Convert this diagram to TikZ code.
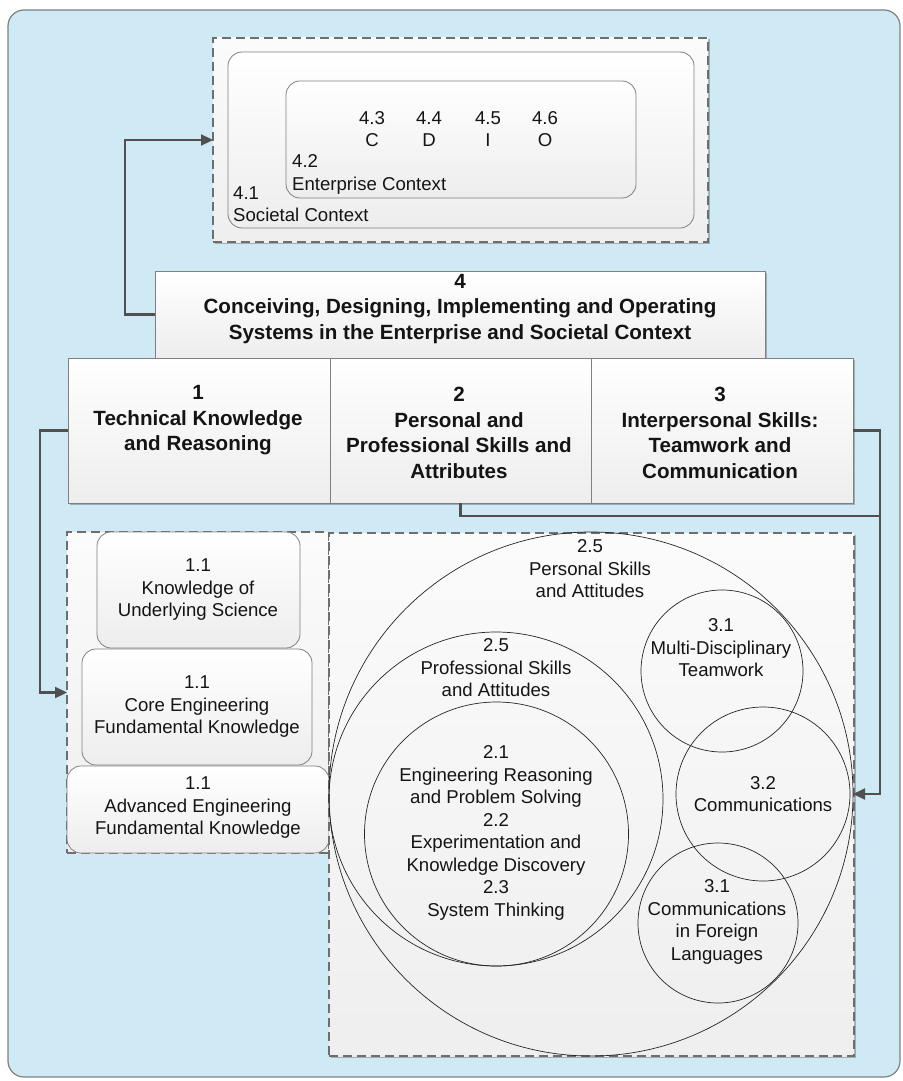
\documentclass[tikz,border=0pt]{standalone}
\usepackage{fontspec}
\setmainfont{Liberation Sans}
\usetikzlibrary{arrows.meta,shadows}
\definecolor{bgblue}{RGB}{207,234,245}
\definecolor{framecol}{RGB}{128,128,128}
\definecolor{conncol}{RGB}{80,80,80}
\definecolor{inkcol}{RGB}{20,20,20}
\definecolor{dashcol}{RGB}{110,110,110}
\begin{document}
\begin{tikzpicture}[x=1pt,y=-1pt,
  shd/.style={drop shadow={shadow xshift=1.5pt,shadow yshift=-1.5pt,opacity=0.25,fill=black}},
  box/.style={draw=framecol, line width=0.8pt, top color=white, bottom color=gray!14, inner sep=0pt, outer sep=0pt},
  rbox/.style={box, rounded corners=14pt},
  dbox/.style={draw=dashcol, dash pattern=on 9pt off 5pt, line width=1.3pt, top color=gray!3, bottom color=gray!13, inner sep=0pt, outer sep=0pt},
  circ/.style={draw=gray!30!black, line width=0.7pt, circle, inner sep=0pt, outer sep=0pt},
  txt/.style={inner sep=0pt, align=center, font=\fontsize{18.6pt}{22.5pt}\selectfont, text=inkcol},
  btxt/.style={inner sep=0pt, align=center, font=\fontsize{20.6pt}{25.5pt}\selectfont\bfseries, text=inkcol},
  link/.style={draw=conncol, line width=2.3pt},
  arr/.style={link, -{Triangle[length=12pt,width=11pt]}},
]
\useasboundingbox (0,0) rectangle (902,1081);
% background
\draw[draw=framecol, fill=bgblue, rounded corners=16pt, line width=1.2pt] (8,10) rectangle (900,1077);

% top context region
\node[dbox, shd, minimum width=495pt, minimum height=204pt] (top) at (460.5,140) {};
\node[rbox, minimum width=466pt, minimum height=176pt] (s41) at (461,140) {};
\node[rbox, minimum width=350pt, minimum height=117pt] (s42) at (461,139.5) {};
\node[txt] (t43) at (372,129) {4.3\\C};
\node[txt] (t44) at (429,129) {4.4\\D};
\node[txt] (t45) at (488,129) {4.5\\I};
\node[txt] (t46) at (545,129) {4.6\\O};
\node[txt, align=left, anchor=west] (t42) at (292,174.5) {4.2\\Enterprise Context};
\node[txt, align=left, anchor=west] (t41) at (233,204) {4.1\\Societal Context};

% box 4
\node[box, shd, minimum width=610pt, minimum height=87pt] (b4) at (460,314.5) {};
\node[btxt] (t4) at (460,309) {4\\Conceiving, Designing, Implementing and Operating\\Systems in the Enterprise and Societal Context};

% row boxes
\node[box, shd, minimum width=262pt, minimum height=145pt] (b1) at (199,430.5) {};
\node[box, shd, minimum width=261pt, minimum height=145pt] (b2) at (460.5,430.5) {};
\node[box, shd, minimum width=262pt, minimum height=145pt] (b3) at (722,430.5) {};
\node[btxt] (t1) at (198,420.5) {1\\Technical Knowledge\\and Reasoning};
\node[btxt] (t2) at (459,433) {2\\Personal and\\Professional Skills and\\Attributes};
\node[btxt] (t3) at (720,433) {3\\Interpersonal Skills:\\Teamwork and\\Communication};

% left panel
\node[dbox, minimum width=262pt, minimum height=321pt] (lbox) at (198,692.5) {};
\node[rbox, minimum width=203pt, minimum height=116pt] (bA) at (198.5,590) {};
\node[rbox, minimum width=230pt, minimum height=116pt] (bB) at (197,707) {};
\node[rbox, minimum width=262pt, minimum height=87pt] (bC) at (198,809.5) {};
\node[txt] (tA) at (198,590) {1.1\\Knowledge of\\Underlying Science};
\node[txt] (tB) at (197,707) {1.1\\Core Engineering\\Fundamental Knowledge};
\node[txt] (tC) at (198,808) {1.1\\Advanced Engineering\\Fundamental Knowledge};

% right panel
\node[dbox, shd, minimum width=525pt, minimum height=523pt] (rbx) at (591.5,794.5) {};
\node[circ, minimum size=524pt] (c25a) at (591,794) {};
\node[circ, minimum size=334pt] (c25b) at (496,799) {};
\node[circ, minimum size=264pt] (c21) at (496.5,834) {};
\node[circ, minimum size=162pt] (c31a) at (722,671) {};
\node[circ, minimum size=174pt] (c32) at (763,794) {};
\node[circ, minimum size=160pt] (c31b) at (718,923) {};
\node[txt] (tp) at (590,569) {2.5\\Personal Skills\\and Attitudes};
\node[txt] (tq) at (496,668) {2.5\\Professional Skills\\and Attitudes};
\node[txt] (tr) at (496,833) {2.1\\Engineering Reasoning\\and Problem Solving\\2.2\\Experimentation and\\Knowledge Discovery\\2.3\\System Thinking};
\node[txt] (ts) at (721,648) {3.1\\Multi-Disciplinary\\Teamwork};
\node[txt] (tt) at (763,794) {3.2\\Communications};
\node[txt] (tu) at (717,922) {3.1\\Communications\\in Foreign\\Languages};

% connectors
\coordinate (j2) at (880,516);
\draw[arr] (b4.west) -- ++(-30,0) |- (top.west);
\draw[arr] (b1.west) -- ++(-28,0) |- (lbox.west);
\draw[arr] (b3.east) -- ++(27,0) |- (c25a.east);
\draw[link] (b2.south) |- (j2);
\end{tikzpicture}
\end{document}
